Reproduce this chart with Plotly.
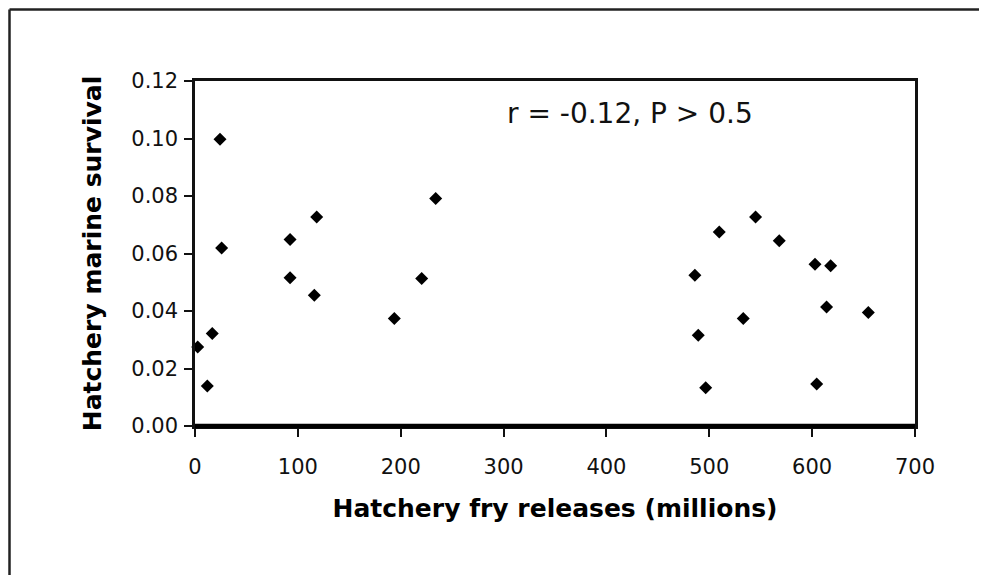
import plotly.graph_objects as go

# Data
releases = [2.6, 12, 16.8, 24.3, 25.9, 92.4, 92.4, 118.3, 116, 193.8, 220.4, 234,
            486, 509.7, 545, 568, 602.8, 618, 614, 654.6, 533, 489.3, 496.5, 604.4]
survival = [0.0275, 0.0139, 0.0322, 0.0997, 0.0619, 0.0649, 0.0516, 0.0727, 0.0455, 0.0374, 0.0513, 0.0791,
            0.0524, 0.0675, 0.0727, 0.0644, 0.0563, 0.0557, 0.0414, 0.0395, 0.0374, 0.0316, 0.0133, 0.0146]

x_ticks = [0, 100, 200, 300, 400, 500, 600, 700]
y_ticks = [0.00, 0.02, 0.04, 0.06, 0.08, 0.10, 0.12]
y_tick_labels = ["0.00", "0.02", "0.04", "0.06", "0.08", "0.10", "0.12"]
annotation_text = "r = -0.12, P > 0.5"
x_title = "Hatchery fry releases (millions)"
y_title = "Hatchery marine survival"

FONT = "DejaVu Sans"

# The page body has an 8px margin, so the figure is sized to fit inside it.
W, H = 971, 567
L, T = 187, 73
PLOT_W, PLOT_H = 720, 345

fig = go.Figure()
fig.add_trace(go.Scatter(
    x=releases, y=survival, mode="markers",
    marker=dict(symbol="diamond", size=10, color="black"),
    cliponaxis=False, showlegend=False,
))

fig.update_layout(
    width=W, height=H,
    margin=dict(l=L, r=W - L - PLOT_W, t=T, b=H - T - PLOT_H, autoexpand=False),
    paper_bgcolor="white", plot_bgcolor="white",
    font=dict(family=FONT, color="black", size=21),
)

fig.update_xaxes(
    range=[0, 700], tickvals=x_ticks, ticktext=[str(v) for v in x_ticks],
    showgrid=False, zeroline=False,
    showline=True, linecolor="#111", linewidth=2.5, mirror=True,
    ticks="outside", ticklen=8, tickwidth=2, tickcolor="#111",
    tickfont=dict(family=FONT, size=21, color="#111"),
    ticklabelstandoff=12,
    title=dict(text="<b>" + x_title + "</b>", font=dict(family=FONT, size=25, color="black"), standoff=22),
    automargin=False,
)
fig.update_yaxes(
    range=[0, 0.12], tickvals=y_ticks, ticktext=y_tick_labels,
    showgrid=False, zeroline=False,
    showline=True, linecolor="#111", linewidth=2.5, mirror=True,
    ticks="outside", ticklen=8, tickwidth=2, tickcolor="#111",
    tickfont=dict(family=FONT, size=21, color="#111"),
    ticklabelstandoff=2,
    title=dict(text="<b>" + y_title + "</b>", font=dict(family=FONT, size=25, color="black"), standoff=23),
    automargin=False,
)

# thicker bottom axis line
fig.add_shape(type="line", xref="paper", yref="paper", x0=0, x1=1, y0=0, y1=0,
              line=dict(color="black", width=4.5))

# outer frame: only its top and left edges are visible in the picture
frame_x = (1.5 - L) / PLOT_W
frame_top = (T + PLOT_H - 1.5) / PLOT_H
fig.add_shape(type="line", xref="paper", yref="paper",
              x0=frame_x, x1=(W - L) / PLOT_W + 0.05, y0=frame_top, y1=frame_top,
              line=dict(color="#222", width=2.5), layer="below")
fig.add_shape(type="line", xref="paper", yref="paper",
              x0=frame_x, x1=frame_x, y0=frame_top, y1=-(H - T - PLOT_H) / PLOT_H - 0.05,
              line=dict(color="#222", width=2.5), layer="below")

fig.add_annotation(
    x=423, y=0.1087, xref="x", yref="y", text=annotation_text, showarrow=False,
    font=dict(family=FONT, size=28, color="#111"), xanchor="center", yanchor="middle",
)

fig.write_html("out.html")
